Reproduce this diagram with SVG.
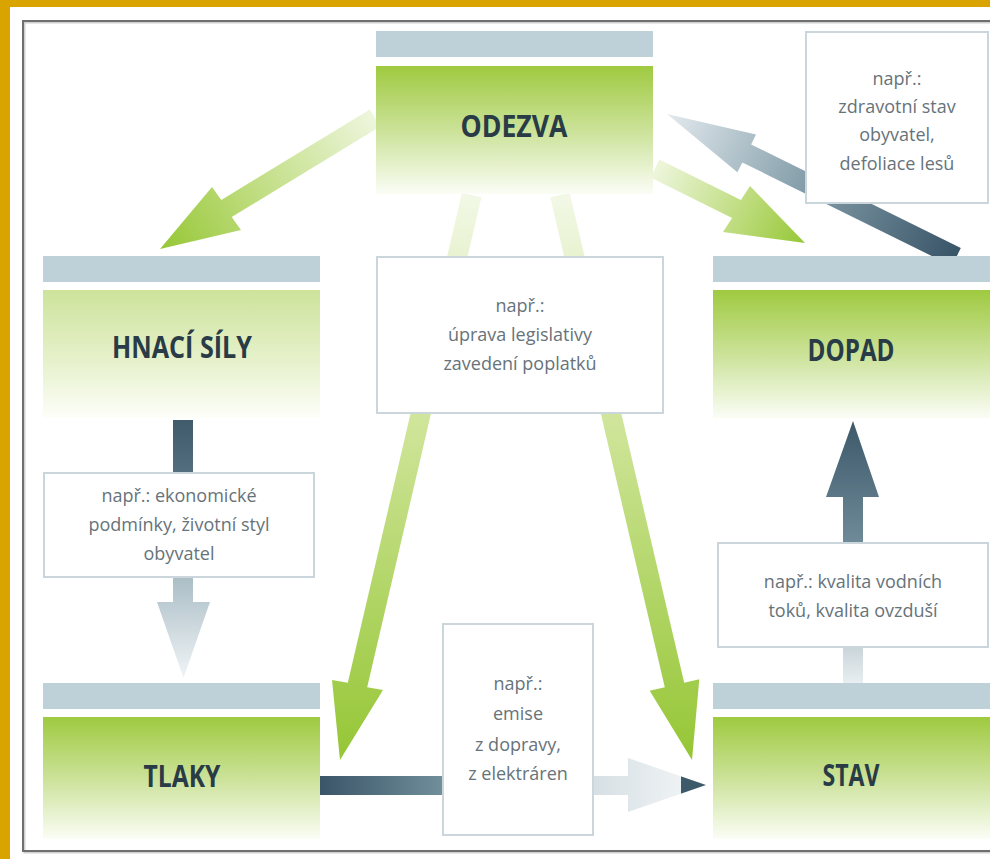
<svg xmlns="http://www.w3.org/2000/svg" width="990" height="859" viewBox="0 0 990 859">
<defs>
<style>
.bar{fill:#bfd1d8}
.lbl{fill:#fff;stroke:#cad6db;stroke-width:2}
.t{font-family:"Open Sans","Noto Sans","DejaVu Sans",sans-serif;font-size:30px;font-weight:700;fill:#283b46;text-anchor:middle}
.s{font-family:"Open Sans","Noto Sans","DejaVu Sans",sans-serif;font-size:18px;fill:#67737a;text-anchor:middle}
</style>
<linearGradient id="gG" x1="0" y1="0" x2="0" y2="1">
<stop offset="0" stop-color="#9fca40"/><stop offset="0.5" stop-color="#cbe298"/><stop offset="1" stop-color="#fbfdf6"/>
</linearGradient>
<linearGradient id="gL" x1="0" y1="0" x2="0" y2="1">
<stop offset="0" stop-color="#cde39b"/><stop offset="0.55" stop-color="#e6f1cb"/><stop offset="1" stop-color="#fdfef9"/>
</linearGradient>
<linearGradient id="a1" gradientUnits="userSpaceOnUse" x1="375" y1="118" x2="160" y2="249">
<stop offset="0" stop-color="#eef6dd"/><stop offset="0.6" stop-color="#bcdb7a"/><stop offset="1" stop-color="#96c736"/>
</linearGradient>
<linearGradient id="a2" gradientUnits="userSpaceOnUse" x1="655" y1="168" x2="805" y2="243">
<stop offset="0" stop-color="#eef6dd"/><stop offset="0.6" stop-color="#bcdb7a"/><stop offset="1" stop-color="#96c736"/>
</linearGradient>
<linearGradient id="a3" gradientUnits="userSpaceOnUse" x1="952" y1="255" x2="667" y2="114">
<stop offset="0" stop-color="#3a5669"/><stop offset="0.55" stop-color="#8aa3ae"/><stop offset="1" stop-color="#e3eaee"/>
</linearGradient>
<linearGradient id="a4" gradientUnits="userSpaceOnUse" x1="0" y1="195" x2="0" y2="760">
<stop offset="0" stop-color="#f2f8e6"/><stop offset="0.4" stop-color="#cfe59a"/><stop offset="1" stop-color="#95c635"/>
</linearGradient>
<linearGradient id="a6" gradientUnits="userSpaceOnUse" x1="0" y1="420" x2="0" y2="678">
<stop offset="0" stop-color="#3f5b6c"/><stop offset="0.25" stop-color="#587382"/><stop offset="0.6" stop-color="#a9bcc5"/><stop offset="1" stop-color="#f0f4f6"/>
</linearGradient>
<linearGradient id="a7" gradientUnits="userSpaceOnUse" x1="0" y1="421" x2="0" y2="683">
<stop offset="0" stop-color="#3d596a"/><stop offset="0.45" stop-color="#6d8896"/><stop offset="1" stop-color="#e8eef1"/>
</linearGradient>
<linearGradient id="a8" gradientUnits="userSpaceOnUse" x1="320" y1="0" x2="706" y2="0">
<stop offset="0" stop-color="#3a5568"/><stop offset="0.31" stop-color="#6f8d99"/><stop offset="0.42" stop-color="#b7c8d0"/><stop offset="0.935" stop-color="#eef2f4"/><stop offset="0.936" stop-color="#3d5a6b"/><stop offset="1" stop-color="#3d5a6b"/>
</linearGradient>
</defs>
<rect x="0" y="0" width="990" height="859" fill="#d9a400"/>
<rect x="10" y="7" width="980" height="852" fill="#ffffff"/>
<rect x="24.5" y="22.5" width="980" height="830" fill="none" stroke="#d0d0d0" stroke-width="2"/>
<rect x="23" y="21" width="980" height="830" fill="none" stroke="#6f6f6f" stroke-width="2"/>

<g id="connectors">
<polygon points="160,249 212,187 221.3,200 369.8,109.5 380.2,126.5 231.7,217 241,230" fill="url(#a1)"/>
<polygon points="805,243 750,186 740.9,200.1 659.4,159.6 650.6,177.5 732.1,218 723,232" fill="url(#a2)"/>
<polygon points="667,114 756,134.6 751.1,144.4 960.8,248 952,266 742.3,162.4 737.4,172.2" fill="url(#a3)"/>
<polygon points="340,760 332,680 347.8,682.7 462,192.7 481.4,197.3 367.2,687.3 383,690" fill="url(#a4)"/>
<polygon points="692,760 649.7,690.8 664.8,687.3 550.3,197.3 569.7,192.7 684.2,682.7 699.3,679.2" fill="url(#a4)"/>
<polygon points="173,420 193,420 193,602 210,602 183.5,678 157,602 173,602" fill="url(#a6)"/>
<polygon points="853,421 879,497 863,497 863,684 843,684 843,497 826,497" fill="url(#a7)"/>
<polygon points="320,776 628,776 628,758 706,785 628,812 628,795 320,795" fill="url(#a8)"/>
</g>

<g id="odezva">
<rect class="bar" x="376" y="31" width="277" height="26"/>
<rect x="376" y="66" width="277" height="128" fill="url(#gG)"/>
<text class="t" x="514" y="137" textLength="107" lengthAdjust="spacingAndGlyphs">ODEZVA</text>
</g>
<g id="hnaci-sily">
<rect class="bar" x="43" y="256" width="277" height="26"/>
<rect x="43" y="290" width="277" height="128" fill="url(#gL)"/>
<text class="t" x="182" y="358" textLength="140" lengthAdjust="spacingAndGlyphs">HNACÍ SÍLY</text>
</g>
<g id="dopad">
<rect class="bar" x="713" y="256" width="277" height="26"/>
<rect x="713" y="290" width="277" height="128" fill="url(#gG)"/>
<text class="t" x="851" y="361" textLength="87" lengthAdjust="spacingAndGlyphs">DOPAD</text>
</g>
<g id="tlaky">
<rect class="bar" x="43" y="683" width="277" height="26"/>
<rect x="43" y="717" width="277" height="122" fill="url(#gG)"/>
<text class="t" x="182" y="787" textLength="77" lengthAdjust="spacingAndGlyphs">TLAKY</text>
</g>
<g id="stav">
<rect class="bar" x="713" y="683" width="277" height="26"/>
<rect x="713" y="717" width="277" height="122" fill="url(#gG)"/>
<text class="t" x="851" y="786" textLength="57" lengthAdjust="spacingAndGlyphs">STAV</text>
</g>

<g id="label-dopad-odezva">
<rect class="lbl" x="806" y="32" width="182" height="171"/>
<text class="s" x="897" y="85">např.:</text>
<text class="s" x="897" y="113">zdravotní stav</text>
<text class="s" x="897" y="141">obyvatel,</text>
<text class="s" x="897" y="170">defoliace lesů</text>
</g>
<g id="label-odezva">
<rect class="lbl" x="377" y="257" width="286" height="156"/>
<text class="s" x="520" y="312">např.:</text>
<text class="s" x="520" y="341">úprava legislativy</text>
<text class="s" x="520" y="370">zavedení poplatků</text>
</g>
<g id="label-hnaci">
<rect class="lbl" x="44" y="473" width="270" height="104"/>
<text class="s" x="179" y="502">např.: ekonomické</text>
<text class="s" x="179" y="531">podmínky, životní styl</text>
<text class="s" x="179" y="560">obyvatel</text>
</g>
<g id="label-tlaky">
<rect class="lbl" x="443" y="624" width="150" height="211"/>
<text class="s" x="518" y="690">např.:</text>
<text class="s" x="518" y="720">emise</text>
<text class="s" x="518" y="751">z dopravy,</text>
<text class="s" x="518" y="780">z elektráren</text>
</g>
<g id="label-stav">
<rect class="lbl" x="718" y="543" width="270" height="104"/>
<text class="s" x="853" y="588">např.: kvalita vodních</text>
<text class="s" x="853" y="617">toků, kvalita ovzduší</text>
</g>
</svg>
